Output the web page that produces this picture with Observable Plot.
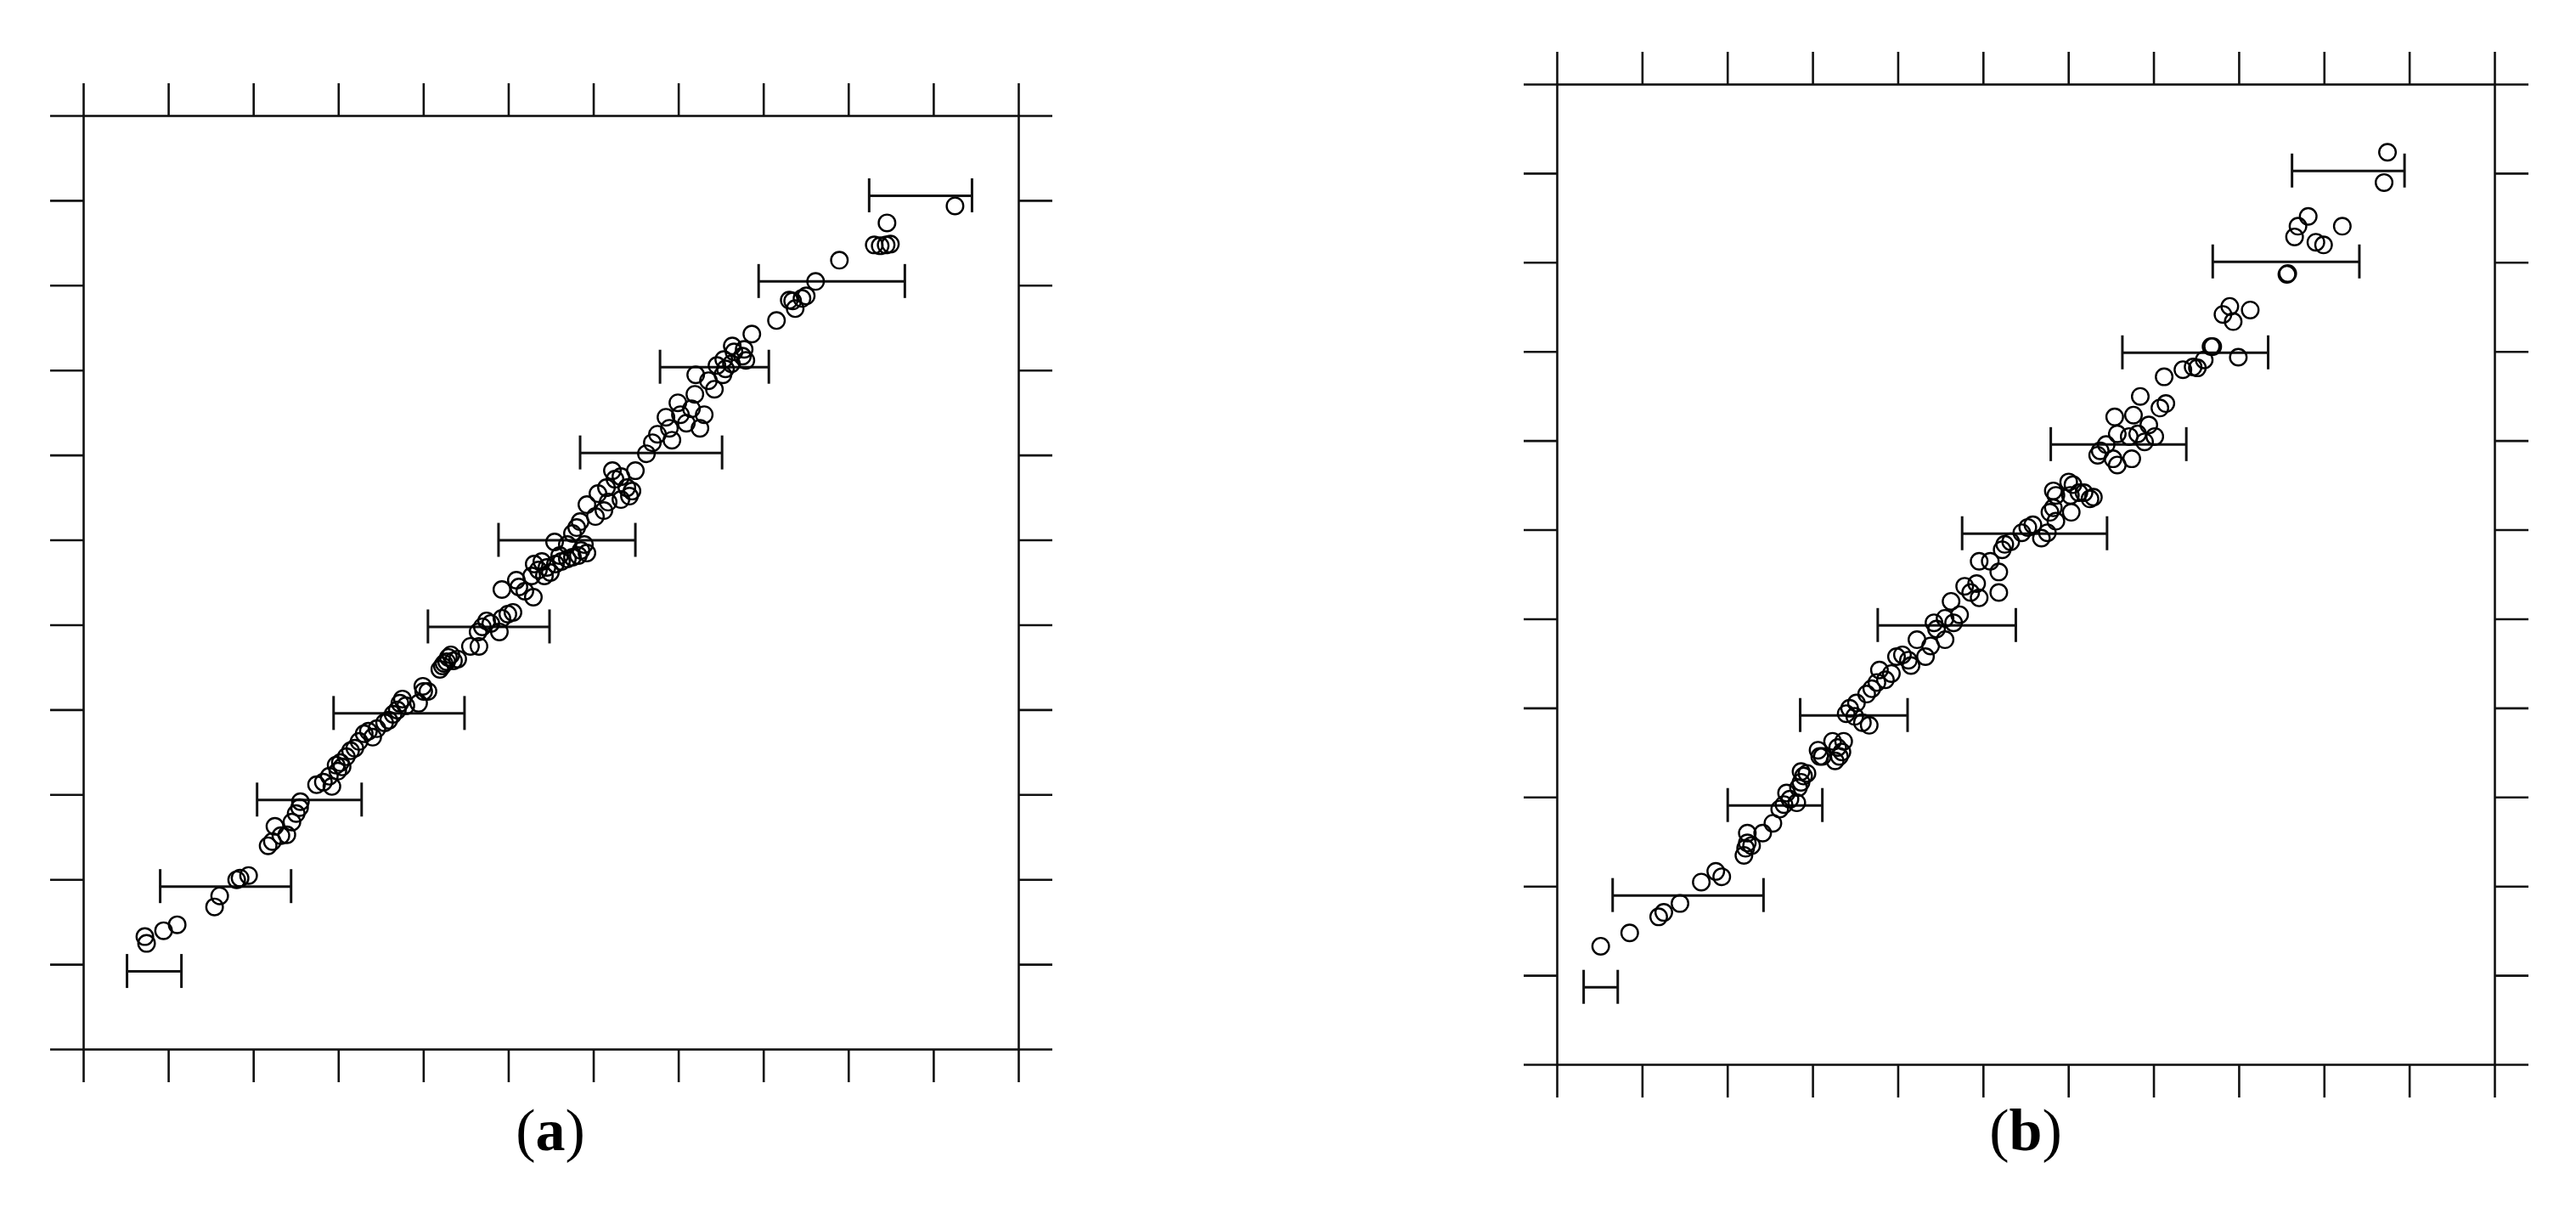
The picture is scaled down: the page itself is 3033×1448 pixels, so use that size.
<!DOCTYPE html>
<html><head><meta charset="utf-8">
<script src="https://cdn.jsdelivr.net/npm/d3@7"></script>
<script src="https://cdn.jsdelivr.net/npm/@observablehq/plot@0.6"></script>
<style>
html,body{margin:0;padding:0;background:#fff;}
#wrap{position:relative;width:3033px;height:1448px;overflow:hidden;background:#fff;}
.lab{position:absolute;font-family:"Liberation Serif","DejaVu Serif",serif;font-size:70px;line-height:1;color:#000;transform:translateX(-50%);white-space:nowrap;}
.lab b{font-weight:bold;}
</style></head><body>
<div id="wrap"></div>
<script>
// shared tick positions (no tick labels in the reference)
const ticks = [0,1,2,3,4,5,6,7,8,9,10,11];

// ---------- panel (a) ----------
const aX = [0.72,0.74,0.94,1.10,1.54,1.60,1.80,1.84,1.94,2.17,2.22,2.25,2.32,2.39,2.45,2.50,2.54,2.55,2.74,2.82,2.92,2.99,3.04,
 2.89,2.97,3.02,3.09,3.14,3.19,3.24,3.30,3.35,3.40,3.45,3.54,3.59,3.64,3.69,3.72,3.75,3.79,3.94,3.99,4.00,4.05,4.19,4.22,4.24,4.27,4.29,4.32,4.35,4.40,
 4.55,4.65,4.64,4.69,4.74,4.79,4.89,4.92,4.99,5.05,4.92,5.12,5.19,5.29,5.09,5.27,5.30,5.39,5.45,5.49,5.55,5.62,5.69,5.75,5.82,5.92,
 5.35,5.42,5.54,5.60,5.69,5.75,5.80,5.85,5.89,5.84,5.92,6.02,6.05,6.12,6.15,6.22,6.25,6.32,6.39,6.42,6.45,6.49,6.32,6.17,
 6.62,6.69,6.75,6.85,6.89,6.92,6.99,7.02,7.09,7.15,7.19,7.20,7.25,7.30,7.35,7.42,7.52,7.55,7.62,7.79,7.45,7.53,7.63,
 7.65,7.75,7.77,7.86,8.15,8.30,8.34,8.37,8.45,8.50,8.61,8.89,9.30,9.37,9.44,9.49,9.45,10.25];
const aY = [1.33,1.25,1.40,1.47,1.68,1.81,2.00,2.02,2.05,2.40,2.45,2.63,2.52,2.53,2.68,2.78,2.85,2.92,3.12,3.15,3.10,3.28,3.33,
 3.22,3.35,3.38,3.45,3.52,3.55,3.63,3.72,3.75,3.68,3.78,3.85,3.88,3.95,4.00,4.08,4.13,4.05,4.08,4.28,4.22,4.22,4.48,4.52,4.55,4.57,4.62,4.65,4.58,4.60,
 4.75,4.75,4.92,4.98,5.05,5.02,4.92,5.08,5.13,5.15,5.42,5.45,5.40,5.33,5.53,5.58,5.72,5.75,5.68,5.62,5.72,5.75,5.78,5.80,5.82,5.85,
 5.65,5.58,5.98,5.82,5.95,6.08,6.15,5.88,5.95,6.22,6.42,6.28,6.55,6.35,6.62,6.82,6.72,6.48,6.62,6.52,6.58,6.82,6.75,6.45,
 7.02,7.15,7.25,7.45,7.32,7.18,7.62,7.48,7.38,7.55,7.72,7.95,7.32,7.48,7.88,7.78,7.95,8.02,8.08,8.12,8.06,8.13,8.29,
 8.22,8.17,8.25,8.43,8.59,8.83,8.82,8.73,8.85,8.88,9.05,9.30,9.48,9.47,9.48,9.49,9.74,9.94];
const aBarY  = [0.92,1.92,2.94,3.96,4.98,6.00,7.03,8.04,9.05,10.06];
const aBarLo = [0.51,0.90,2.04,2.94,4.05,4.88,5.84,6.78,7.94,9.24];
const aBarHi = [1.15,2.44,3.27,4.48,5.48,6.49,7.51,8.06,9.66,10.45];

// ---------- panel (b) ----------
const bX = [0.51,0.85,1.19,1.25,1.44,1.69,1.86,1.93,2.19,2.21,2.23,2.23,2.28,2.41,2.53,2.61,2.66,2.69,2.73,2.81,2.83,2.86,2.89,3.08,3.31,3.34,3.06,
 2.86,2.93,3.11,3.23,3.29,3.26,3.36,3.39,3.43,3.49,3.58,3.66,3.51,3.63,3.69,3.75,3.78,3.85,3.92,3.98,4.05,4.12,4.15,4.22,4.32,4.38,
 4.42,4.45,4.55,4.55,4.62,4.65,4.72,4.78,4.85,4.92,4.95,4.95,5.08,5.18,5.18,5.22,5.25,5.32,5.45,5.52,5.58,5.68,5.75,5.78,5.82,5.85,5.82,
 6.00,6.03,6.02,6.25,6.29,6.18,5.85,
 9.74,9.70,8.81,8.69,8.65,9.21,8.90,8.99,8.57,8.56,7.89,7.81,7.93,8.13,7.69,7.67,7.99,7.59,7.51,7.46,7.34,7.12,6.84,7.14,7.07,
 6.54,6.76,6.94,7.01,6.57,6.44,6.37,6.34,6.52,6.57,6.74,6.89,6.71,6.81,6.05,6.12];
const bY = [1.33,1.48,1.66,1.71,1.81,2.05,2.17,2.11,2.35,2.43,2.49,2.60,2.46,2.60,2.71,2.87,2.92,3.05,2.98,2.94,3.11,3.17,3.24,3.46,3.46,3.51,3.53,
 3.29,3.27,3.46,3.63,3.56,3.41,3.63,3.94,4.00,3.91,3.84,3.81,4.06,4.16,4.22,4.29,4.43,4.32,4.39,4.58,4.60,4.54,4.48,4.77,4.58,4.70,
 4.96,4.89,5.01,4.77,5.20,4.96,5.05,5.37,5.30,5.40,5.65,5.24,5.65,5.30,5.53,5.78,5.84,5.87,5.97,6.03,6.06,5.91,5.97,6.20,6.25,6.39,6.44,
 6.54,6.20,6.39,6.35,6.37,6.42,6.10,
 10.24,9.90,9.52,9.41,9.29,9.41,9.23,9.20,8.88,8.87,8.51,8.42,8.34,8.47,8.06,8.06,7.94,7.91,7.82,7.83,7.80,7.72,7.50,7.42,7.37,
 7.27,7.29,7.18,7.05,7.08,6.96,6.89,6.84,6.80,6.73,6.80,6.99,7.05,7.08,6.51,6.42];
const bBarY  = [0.87,1.90,2.91,3.92,4.93,5.96,6.96,7.99,9.01,10.03];
const bBarLo = [0.31,0.65,2.00,2.85,3.76,4.75,5.79,6.63,7.69,8.62];
const bBarHi = [0.71,2.42,3.11,4.11,5.38,6.45,7.38,8.34,9.41,9.94];

const ink = "#111";

function makePanel(xs, ys, barY, barLo, barHi, W, H, m) {
  const pts = xs.map((x, i) => ({x, y: ys[i]}));
  const bars = barY.map((y, i) => ({y, lo: barLo[i], hi: barHi[i]}));
  const ax = {ticks, tickSize: 39, tickFormat: () => "", label: null, stroke: ink, strokeWidth: 2.6, strokeOpacity: 1};
  return Plot.plot({
    width: W, height: H,
    marginLeft: m[0], marginTop: m[1], marginRight: m[2], marginBottom: m[3],
    x: {domain: [0, 11], label: null},
    y: {domain: [0, 11], label: null},
    style: {background: "white"},
    marks: [
      Plot.axisX({...ax, anchor: "top"}),
      Plot.axisX({...ax, anchor: "bottom"}),
      Plot.axisY({...ax, anchor: "left"}),
      Plot.axisY({...ax, anchor: "right"}),
      Plot.frame({stroke: ink, strokeWidth: 2.6}),
      Plot.ruleY(bars, {y: "y", x1: "lo", x2: "hi", stroke: ink, strokeWidth: 3}),
      Plot.ruleX(bars, {x: "lo", y1: "y", y2: "y", insetTop: -20, insetBottom: -20, stroke: ink, strokeWidth: 3}),
      Plot.ruleX(bars, {x: "hi", y1: "y", y2: "y", insetTop: -20, insetBottom: -20, stroke: ink, strokeWidth: 3}),
      Plot.dot(pts, {x: "x", y: "y", r: 9.8, stroke: "#000", strokeWidth: 2.4, fill: "none"})
    ]
  });
}

const wrap = document.getElementById("wrap");
const pa = makePanel(aX, aY, aBarY, aBarLo, aBarHi, 1300, 1300, [98, 136, 101, 65]);
pa.style.position = "absolute"; pa.style.left = "0px"; pa.style.top = "0px";
wrap.appendChild(pa);
const pb = makePanel(bX, bY, bBarY, bBarLo, bBarHi, 1300, 1320, [100, 99, 96, 67]);
pb.style.position = "absolute"; pb.style.left = "1733px"; pb.style.top = "0px";
wrap.appendChild(pb);

function label(txt, cx, top) {
  const d = document.createElement("div");
  d.className = "lab";
  d.innerHTML = "(<b>" + txt + "</b>)";
  d.style.left = cx + "px"; d.style.top = top + "px";
  wrap.appendChild(d);
}
label("a", 648, 1296);
label("b", 2385, 1296);
</script>
</body></html>
